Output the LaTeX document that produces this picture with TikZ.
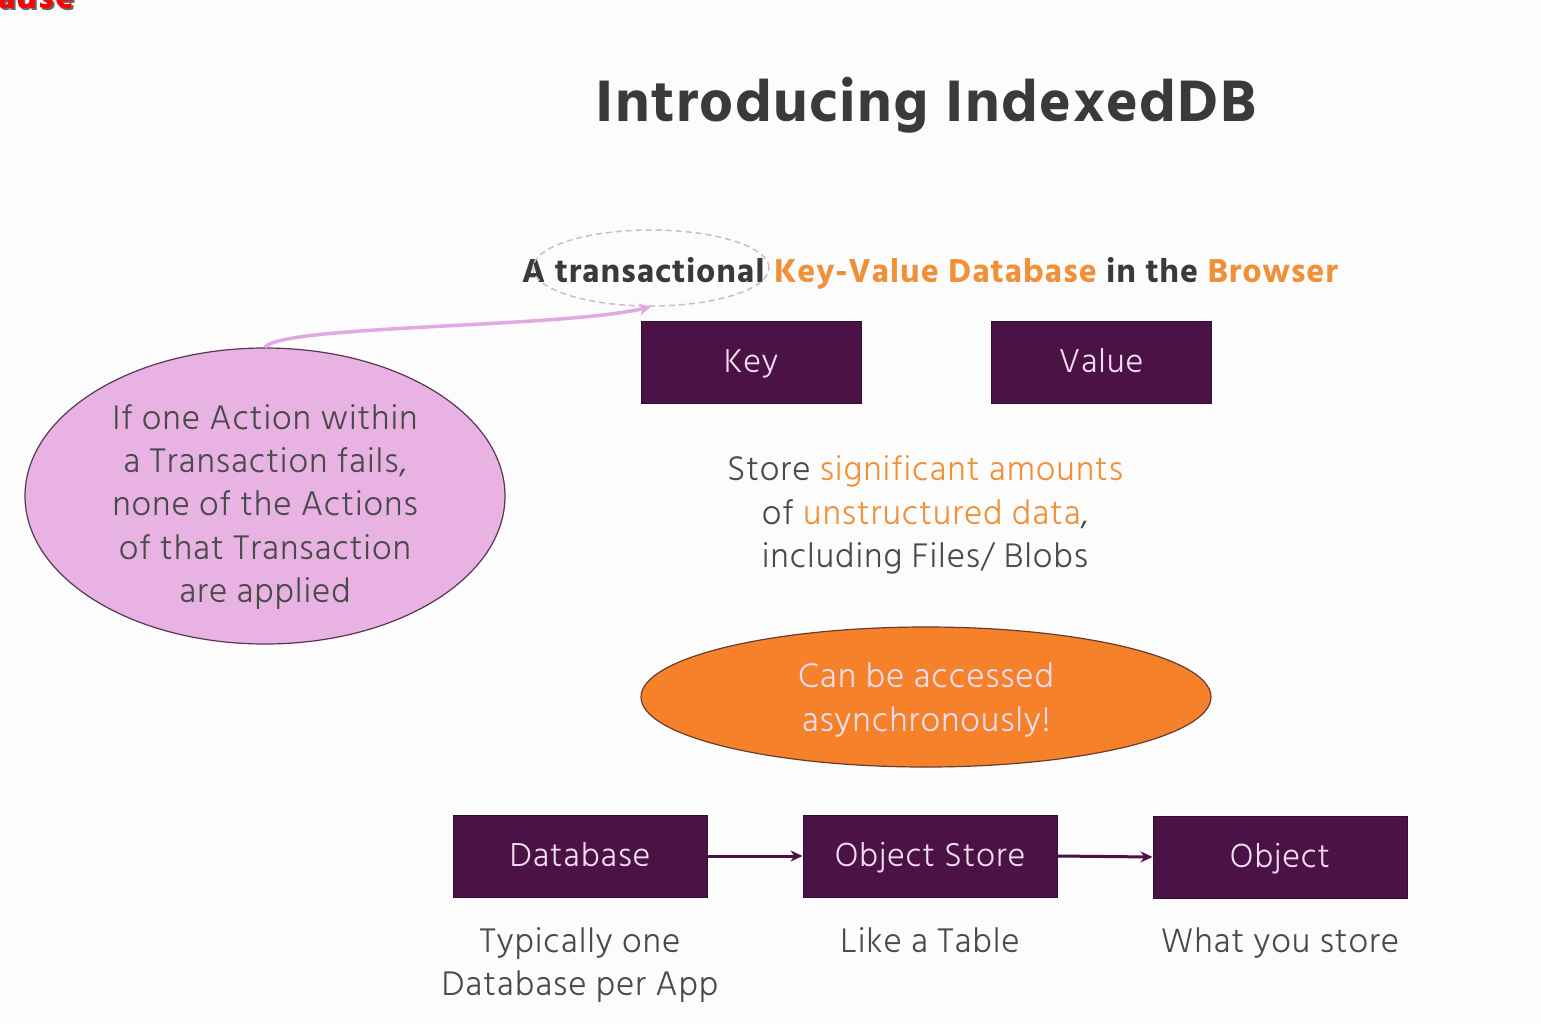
\documentclass[tikz,border=0pt]{standalone}
\usepackage{fontspec}
\setmainfont{Hind Madurai}[UprightFont=* Light, BoldFont=* Bold, LetterSpace=2.5]
\usetikzlibrary{shapes.geometric, arrows.meta}
\definecolor{bg}{HTML}{FCFCFC}
\definecolor{titlegray}{HTML}{3A3A3A}
\definecolor{bodygray}{HTML}{4A4A4A}
\definecolor{accent}{HTML}{F0913A}
\definecolor{boxpurple}{HTML}{4B1246}
\definecolor{boxtext}{HTML}{F2DCEF}
\definecolor{bubblepink}{HTML}{E8B2E2}
\definecolor{bubbleline}{HTML}{5A3558}
\definecolor{dashpink}{HTML}{D9B3DA}
\definecolor{arrowpink}{HTML}{E2A8E0}
\definecolor{orangefill}{HTML}{F5822A}
\definecolor{orangeline}{HTML}{6A3A2A}
\tikzset{
  purplebox/.style={rectangle, fill=boxpurple, draw=boxpurple!70!black, line width=1pt,
    minimum height=82pt, inner sep=0pt, text height=26pt, text depth=6pt,
    text=boxtext, font=\fontsize{34}{36}\selectfont},
  caption/.style={align=center, text=bodygray, font=\fontsize{35}{43.3}\selectfont},
  flowarrow/.style={draw=boxpurple, line width=3pt, -{Stealth[length=12pt,width=11pt]}},
}
\begin{document}
\begin{tikzpicture}[x=1pt,y=-1pt]
\fill[bg] (0,0) rectangle (1541,1023);
\useasboundingbox (0,0) rectangle (1541,1023);
\begin{scope}
\clip (0,0) rectangle (1541,1023);
\node[anchor=base west, inner sep=0pt, text=black!60, font=\bfseries\fontsize{36}{36}\selectfont] (pauseshadow) at (-1,10) {ause};
\node[anchor=base west, inner sep=0pt, text=red, font=\bfseries\fontsize{36}{36}\selectfont] (pause) at (-3,8) {ause};
\end{scope}

\node[anchor=base, text=titlegray, font=\bfseries\fontsize{60}{62}\selectfont] (title) at (926,121) {Introducing IndexedDB};

\node[anchor=base, text=titlegray, font=\bfseries\fontsize{34}{36}\selectfont] (sub) at (930,282)
  {A transactional \textcolor{accent}{Key-Value Database} in the \textcolor{accent}{Browser}};

\node[ellipse, draw=dashpink, dashed, dash pattern=on 6pt off 4pt, line width=1.5pt,
  minimum width=236pt, minimum height=76pt] (hl) at (651,268) {};

\node[purplebox, minimum width=220pt] (key) at (751,362) {Key};
\node[purplebox, minimum width=220pt] (value) at (1101,362) {Value};

\node[caption] (store) at (925,515)
  {Store \textcolor{accent}{significant amounts}\\ of \textcolor{accent}{unstructured data},\\ including Files/ Blobs};

\node[ellipse, fill=bubblepink, draw=bubbleline, line width=1.2pt, minimum width=480pt,
  minimum height=296pt, inner sep=0pt] (bubble) at (265,496) {};
\node[align=center, text=bodygray, font=\fontsize{35}{43.3}\selectfont] (bubbletext) at (265,507)
  {If one Action within\\ a Transaction fails,\\ none of the Actions\\ of that Transaction\\ are applied};

\draw[arrowpink, line width=3.5pt, -{Stealth[length=12pt,width=12pt]}]
  (bubble.north) .. controls (280,325) and (560,328) .. (hl.south);

\node[ellipse, fill=orangefill, draw=orangeline, line width=1.2pt, minimum width=570pt,
  minimum height=140pt, inner sep=0pt] (async) at (926,697) {};
\node[align=center, text=boxtext, font=\fontsize{35}{43.3}\selectfont] (asynctext) at (926,700)
  {Can be accessed\\ asynchronously!};

\node[purplebox, minimum width=254pt] (db) at (580,856) {Database};
\node[purplebox, minimum width=254pt] (os) at (930,856) {Object Store};
\node[purplebox, minimum width=254pt] (obj) at (1280,857) {Object};

\draw[flowarrow] (db.east) -- (os.west);
\draw[flowarrow] (os.east) -- (obj.west);

\node[caption, anchor=north] (dbcap) at (580,924) {Typically one\\ Database per App};
\node[caption, anchor=north] (oscap) at (930,924) {Like a Table};
\node[caption, anchor=north] (objcap) at (1280,924) {What you store};
\end{tikzpicture}
\end{document}
